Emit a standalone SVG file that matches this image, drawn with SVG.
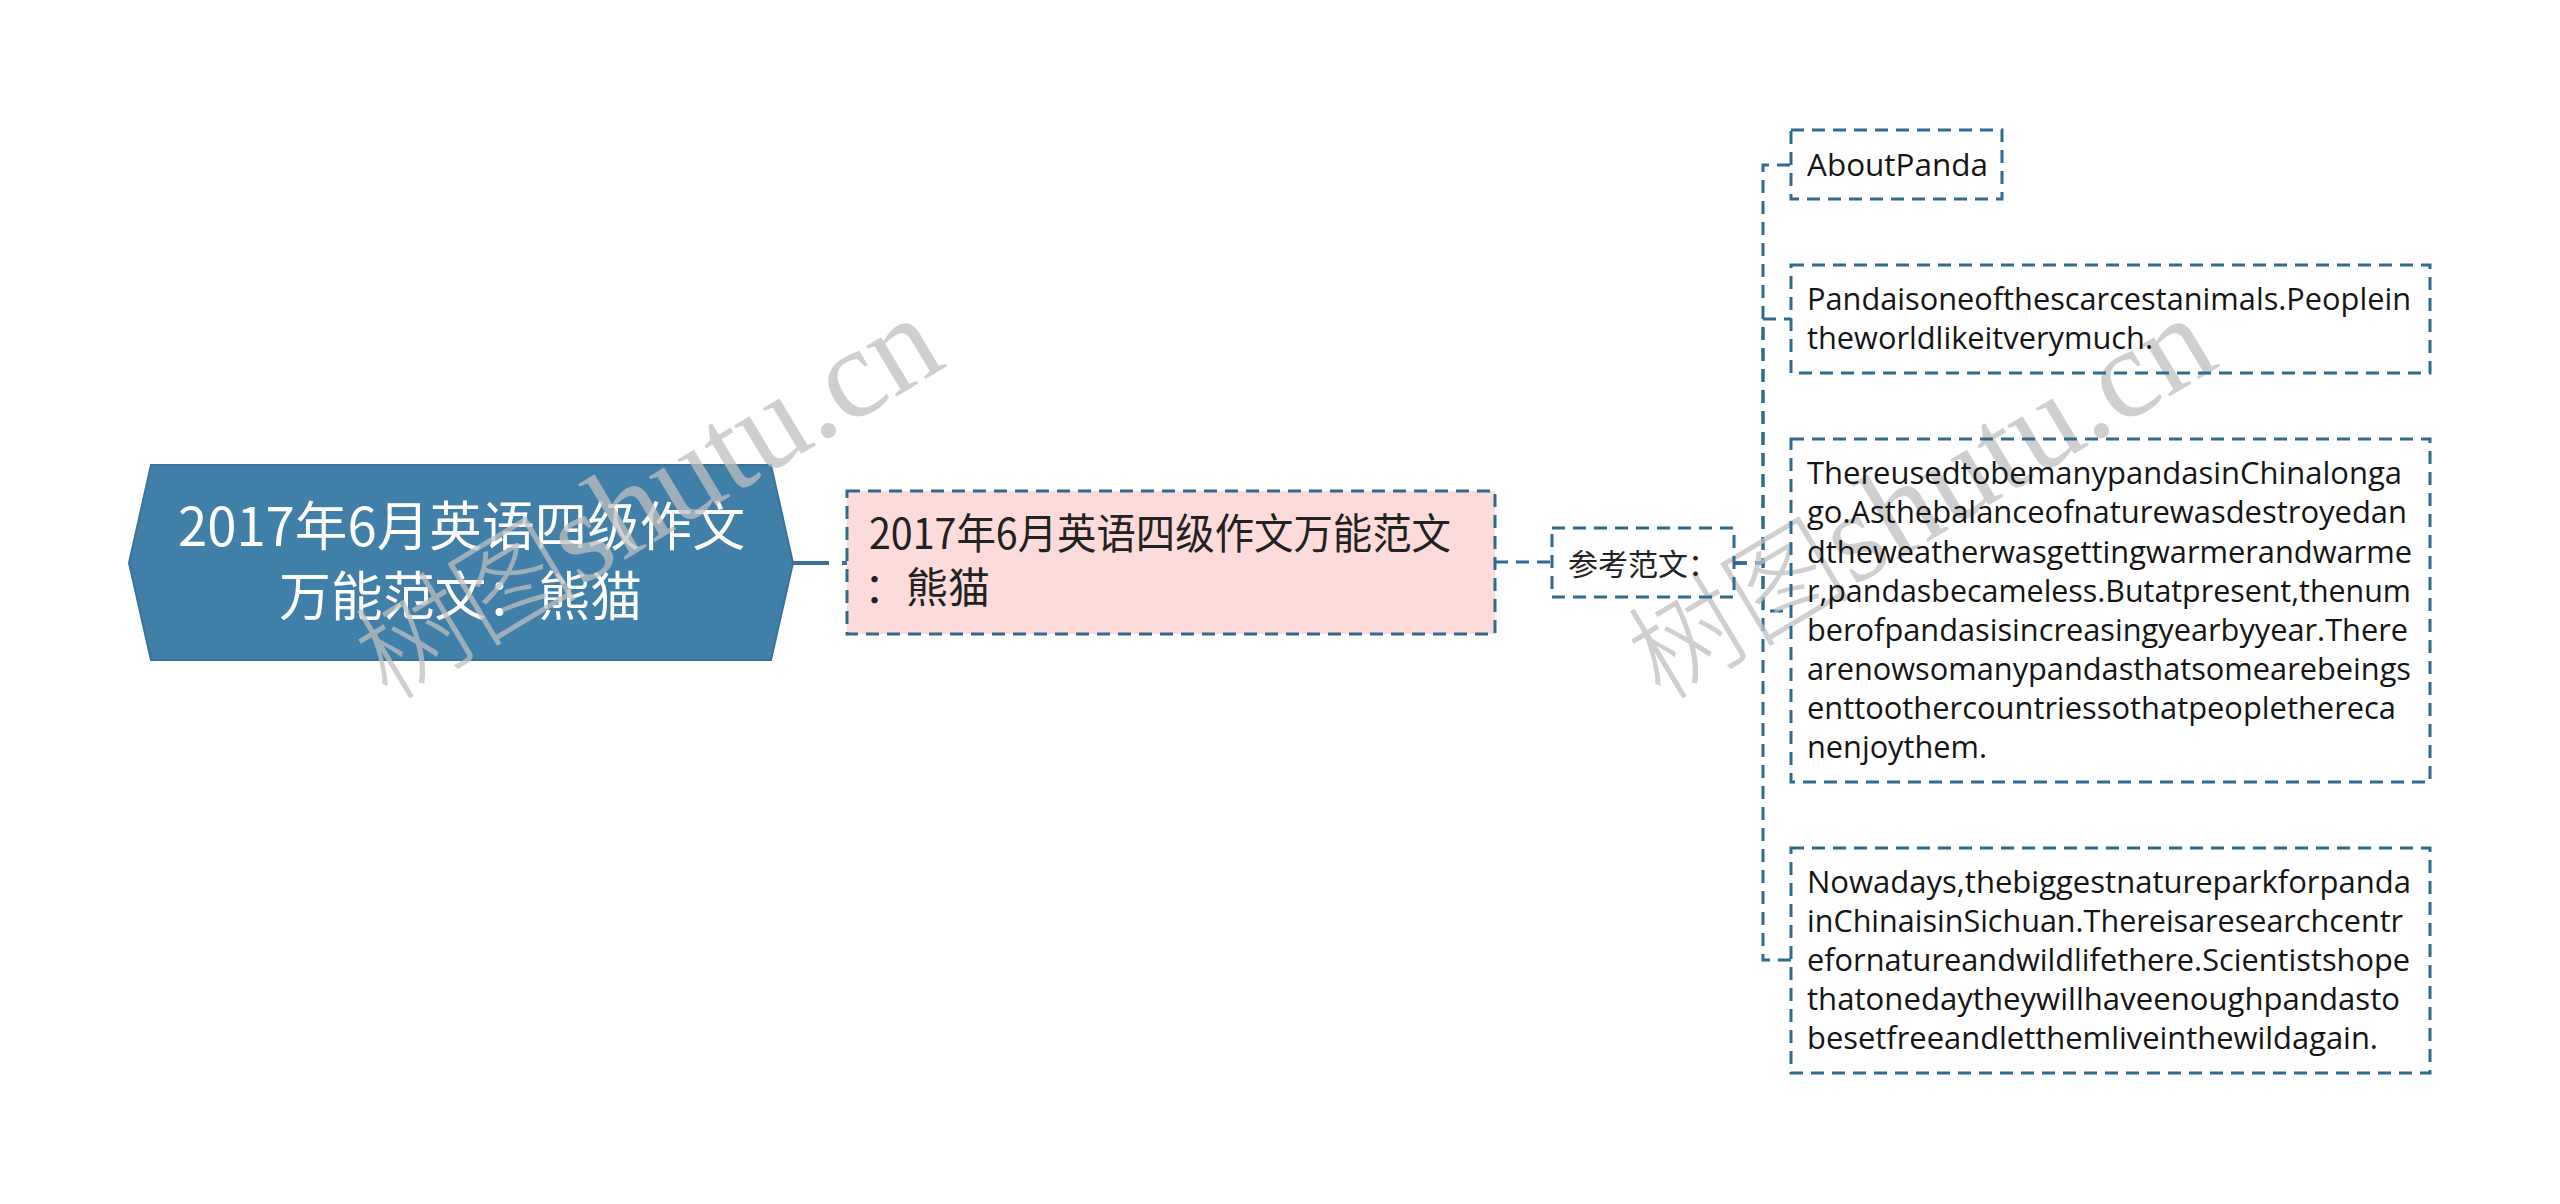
<svg xmlns="http://www.w3.org/2000/svg" width="2560" height="1204" viewBox="0 0 2560 1204">
<style>
.box{fill:none;stroke:#2f6b8f;stroke-width:3;stroke-dasharray:13 8}
.pink{fill:#fddbdb}
.con{fill:none;stroke:#2f6b8f;stroke-width:3;stroke-dasharray:13 8}
.en{font-family:"Open Sans","Noto Sans",sans-serif;font-size:31px;fill:#151515}
.zh{font-family:"Noto Sans CJK SC",sans-serif;fill:#222}
.wm{font-family:"Liberation Serif","Noto Sans CJK SC",serif;font-size:128px;fill:#bfbfbf;opacity:.75}
.wmz{font-family:"Noto Sans CJK SC",sans-serif;font-size:112px;font-weight:300}
</style>
<rect width="2560" height="1204" fill="#fff"/>
<g id="connectors">
<path d="M793 563H847" fill="none" stroke="#3a7397" stroke-width="4" stroke-dasharray="36 13"/>
<path class="con" d="M1495 562H1552"/>
<path class="con" d="M1734 563H1763V165H1791"/>
<path class="con" d="M1734 563H1763V319H1791"/>
<path class="con" d="M1734 563H1763V611H1791"/>
<path class="con" d="M1734 563H1763V960H1791"/>
</g>
<g id="root">
<polygon points="151,465 771,465 793,563 771,660 151,660 129,563" fill="#3f7fa8" stroke="#3a7397" stroke-width="2"/>
<text class="zh" x="178" y="546" font-size="53" style="fill:#fff" textLength="567" lengthAdjust="spacingAndGlyphs">2017年6月英语四级作文</text>
<text class="zh" x="279" y="616" font-size="53" style="fill:#fff" textLength="363" lengthAdjust="spacingAndGlyphs">万能范文：熊猫</text>
</g>
<g id="watermarks">
<text class="wm" transform="translate(388 702) rotate(-31)"><tspan class="wmz">树图</tspan>shutu.cn</text>
<text class="wm" transform="translate(1661 702) rotate(-31)"><tspan class="wmz">树图</tspan>shutu.cn</text>
</g>
<g id="topic">
<rect class="pink" x="847" y="491" width="648" height="143"/>
<rect class="box" x="847" y="491" width="648" height="143"/>
<text class="zh" x="869" y="549" font-size="42" textLength="582" lengthAdjust="spacingAndGlyphs">2017年6月英语四级作文万能范文</text>
<text class="zh" x="864" y="603" font-size="42">：熊猫</text>
</g>
<g id="label">
<rect class="box" x="1552" y="528" width="182" height="69"/>
<text class="zh" x="1568" y="575" font-size="30">参考范文：</text>
</g>
<g id="n1">
<rect class="box" x="1791" y="130" width="211" height="69"/>
<text class="en" x="1807" y="176" textLength="181" lengthAdjust="spacingAndGlyphs">AboutPanda</text>
</g>
<g id="n2">
<rect class="box" x="1791" y="265" width="639" height="108"/>
<text class="en" x="1807" y="310" textLength="604" lengthAdjust="spacingAndGlyphs">Pandaisoneofthescarcestanimals.Peoplein</text>
<text class="en" x="1807" y="349" textLength="346" lengthAdjust="spacingAndGlyphs">theworldlikeitverymuch.</text>
</g>
<g id="n3">
<rect class="box" x="1791" y="439" width="639" height="343"/>
<text class="en" x="1807" y="484" textLength="595" lengthAdjust="spacingAndGlyphs">ThereusedtobemanypandasinChinalonga</text>
<text class="en" x="1807" y="523" textLength="600" lengthAdjust="spacingAndGlyphs">go.Asthebalanceofnaturewasdestroyedan</text>
<text class="en" x="1807" y="563" textLength="605" lengthAdjust="spacingAndGlyphs">dtheweatherwasgettingwarmerandwarme</text>
<text class="en" x="1807" y="602" textLength="604" lengthAdjust="spacingAndGlyphs">r,pandasbecameless.Butatpresent,thenum</text>
<text class="en" x="1807" y="641" textLength="601" lengthAdjust="spacingAndGlyphs">berofpandasisincreasingyearbyyear.There</text>
<text class="en" x="1807" y="680" textLength="604" lengthAdjust="spacingAndGlyphs">arenowsomanypandasthatsomearebeings</text>
<text class="en" x="1807" y="719" textLength="589" lengthAdjust="spacingAndGlyphs">enttoothercountriessothatpeoplethereca</text>
<text class="en" x="1807" y="758" textLength="180" lengthAdjust="spacingAndGlyphs">nenjoythem.</text>
</g>
<g id="n4">
<rect class="box" x="1791" y="848" width="639" height="225"/>
<text class="en" x="1807" y="893" textLength="604" lengthAdjust="spacingAndGlyphs">Nowadays,thebiggestnatureparkforpanda</text>
<text class="en" x="1807" y="932" textLength="596" lengthAdjust="spacingAndGlyphs">inChinaisinSichuan.Thereisaresearchcentr</text>
<text class="en" x="1807" y="971" textLength="603" lengthAdjust="spacingAndGlyphs">efornatureandwildlifethere.Scientistshope</text>
<text class="en" x="1807" y="1010" textLength="593" lengthAdjust="spacingAndGlyphs">thatonedaytheywillhaveenoughpandasto</text>
<text class="en" x="1807" y="1049" textLength="571" lengthAdjust="spacingAndGlyphs">besetfreeandletthemliveinthewildagain.</text>
</g>
</svg>
